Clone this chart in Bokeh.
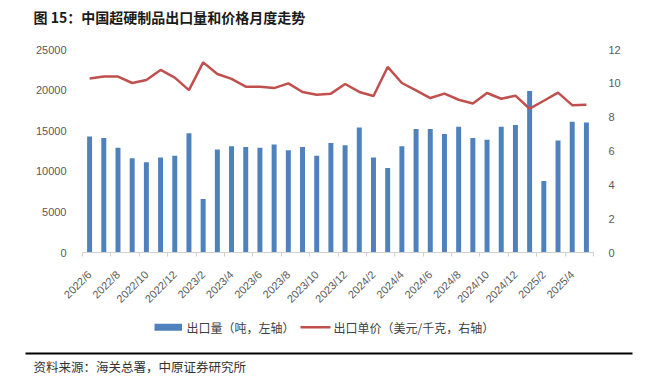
from math import pi
from bokeh.plotting import figure
from bokeh.layouts import column
from bokeh.models import (Range1d, LinearAxis, FixedTicker, Label, BoxAnnotation)
from bokeh.embed import file_html
from bokeh.resources import INLINE

# ---------------- data ----------------
months = ["2022/6", "2022/7", "2022/8", "2022/9", "2022/10", "2022/11", "2022/12",
          "2023/1", "2023/2", "2023/3", "2023/4", "2023/5", "2023/6", "2023/7",
          "2023/8", "2023/9", "2023/10", "2023/11", "2023/12",
          "2024/1", "2024/2", "2024/3", "2024/4", "2024/5", "2024/6", "2024/7",
          "2024/8", "2024/9", "2024/10", "2024/11", "2024/12",
          "2025/1", "2025/2", "2025/3", "2025/4", "2025/5"]
export_qty = [14300, 14100, 12900, 11600, 11100, 11700, 11900, 14700, 6600, 12700,
              13100, 13000, 12900, 13300, 12600, 13000, 11900, 13500, 13200, 15400,
              11700, 10400, 13100, 15200, 15200, 14600, 15500, 14100, 13900, 15500,
              15700, 19900, 8800, 13800, 16100, 16000]
export_price = [10.28, 10.40, 10.40, 10.02, 10.20, 10.79, 10.34, 9.60, 11.24, 10.55,
                10.26, 9.80, 9.80, 9.72, 10.00, 9.49, 9.33, 9.39, 9.96, 9.49,
                9.25, 10.97, 10.02, 9.58, 9.13, 9.39, 9.03, 8.81, 9.43, 9.09,
                9.27, 8.50, 8.97, 9.45, 8.71, 8.73]
left_ticks = [0, 5000, 10000, 15000, 20000, 25000]
right_ticks = [0, 2, 4, 6, 8, 10, 12]

title_text = "图 15：中国超硬制品出口量和价格月度走势"
source_text = "资料来源：海关总署，中原证券研究所"
qty_label = "出口量（吨，左轴）"
price_label = "出口单价（美元/千克，右轴）"

BAR = "#4F81BD"
LINE = "#C0504D"
AXIS_TXT = "#595959"
CJK = "Noto Sans CJK SC"
W = 650
RULE_L, RULE_R = 25, 632


def blank(height, y0, y1, left=0, right=0, top=0, bottom=0, x0=0, x1=W):
    f = figure(width=W, height=height, x_range=Range1d(x0, x1),
               y_range=Range1d(y0, y1), x_axis_type=None, y_axis_type=None,
               toolbar_location=None, output_backend="svg", min_border=0,
               min_border_left=left, min_border_right=right, min_border_top=top,
               min_border_bottom=bottom, frame_align=False, title=None)
    f.outline_line_color = None
    f.background_fill_color = "#ffffff"
    f.border_fill_color = "#ffffff"
    return f


def rule_axis():
    ax = LinearAxis(ticker=FixedTicker(ticks=[]))
    ax.axis_line_color = "#000000"
    ax.axis_line_width = 2.2
    ax.major_tick_line_color = None
    ax.minor_tick_line_color = None
    ax.major_tick_out = 0
    ax.major_tick_in = 0
    ax.minor_tick_out = 0
    ax.minor_tick_in = 0
    ax.major_label_standoff = 0
    ax.major_label_text_font_size = "1px"
    return ax

# ---------------- header (title) ----------------
head = blank(36, 36, 0)
head.add_layout(Label(x=33, y=16, text=title_text, text_baseline="middle",
                      text_align="left", text_font=CJK, text_font_style="bold",
                      text_font_size="14px", text_color="#1a1a1a"))

# ---------------- header rule (drawn as the top axis line of a thin strip) ----------------
head_rule = blank(6, 42, 37, left=RULE_L, right=W - RULE_R, top=1, x0=RULE_L, x1=RULE_R)
head_rule.add_layout(rule_axis(), "above")

# ---------------- main chart ----------------
p = figure(width=W, height=270, x_range=Range1d(-0.5, len(months) - 0.5),
           y_range=Range1d(0, 25000), toolbar_location=None, output_backend="svg",
           min_border_left=82, min_border_right=W - 593, min_border_top=7,
           min_border_bottom=60, frame_align=False, title=None)
p.outline_line_color = None
p.xgrid.visible = False
p.ygrid.visible = False
p.extra_y_ranges = {"right": Range1d(0, 12)}

bars = p.vbar(x=list(range(len(months))), top=export_qty, width=0.35,
              fill_color=BAR, line_color=None)
ln = p.line(x=list(range(len(months))), y=export_price, y_range_name="right",
            line_color=LINE, line_width=2.5)

xa = p.xaxis[0]
xa.ticker = FixedTicker(ticks=list(range(0, len(months), 2)),
                        minor_ticks=[i - 0.5 for i in range(0, len(months) + 1, 2)])
xa.major_label_overrides = {i: months[i] for i in range(0, len(months), 2)}
xa.major_label_orientation = pi / 4
xa.major_tick_out = 0
xa.major_tick_in = 0
xa.minor_tick_out = 4
xa.minor_tick_in = 0
xa.minor_tick_line_color = "#d0d0d0"
xa.axis_line_color = "#d0d0d0"
xa.major_label_text_font = "Liberation Sans"
xa.major_label_text_font_size = "11px"
xa.major_label_text_color = AXIS_TXT
xa.major_label_standoff = 16

ya = p.yaxis[0]
ya.ticker = FixedTicker(ticks=left_ticks)
ya.axis_line_color = None
ya.major_tick_line_color = None
ya.minor_tick_line_color = None
ya.major_label_text_font = "Liberation Sans"
ya.major_label_text_font_size = "11px"
ya.major_label_text_color = AXIS_TXT
ya.major_label_standoff = 10

ra = LinearAxis(y_range_name="right", ticker=FixedTicker(ticks=right_ticks))
ra.axis_line_color = None
ra.major_tick_line_color = None
ra.minor_tick_line_color = None
ra.major_label_text_font = "Liberation Sans"
ra.major_label_text_font_size = "11px"
ra.major_label_text_color = AXIS_TXT
ra.major_label_standoff = 9
p.add_layout(ra, "right")

# ---------------- legend strip ----------------
leg = blank(40, 352, 312)
leg.add_layout(BoxAnnotation(left=154, right=181.5, top=323.3, bottom=330.2,
                             fill_color=BAR, fill_alpha=1.0, line_color=None))
leg.add_layout(Label(x=186, y=326.7, text=qty_label, text_baseline="middle",
                     text_align="left", text_font=CJK, text_font_size="12px",
                     text_color="#404040"))
leg.add_layout(BoxAnnotation(left=300, right=330, top=325.4, bottom=328.0,
                             fill_color=LINE, fill_alpha=1.0, line_color=None))
leg.add_layout(Label(x=333, y=326.7, text=price_label, text_baseline="middle",
                     text_align="left", text_font=CJK, text_font_size="12px",
                     text_color="#404040"))

# ---------------- footer (rule as its top axis line + source) ----------------
foot = blank(31, 383, 353, left=RULE_L, right=W - RULE_R, top=1, x0=RULE_L, x1=RULE_R)
foot.add_layout(rule_axis(), "above")
foot.add_layout(Label(x=33, y=365.5, text=source_text, text_baseline="middle",
                      text_align="left", text_font=CJK, text_font_size="12.5px",
                      text_color="#333333"))

layout = column(head, head_rule, p, leg, foot, spacing=0)
open("out.html", "w").write(file_html(layout, INLINE))
